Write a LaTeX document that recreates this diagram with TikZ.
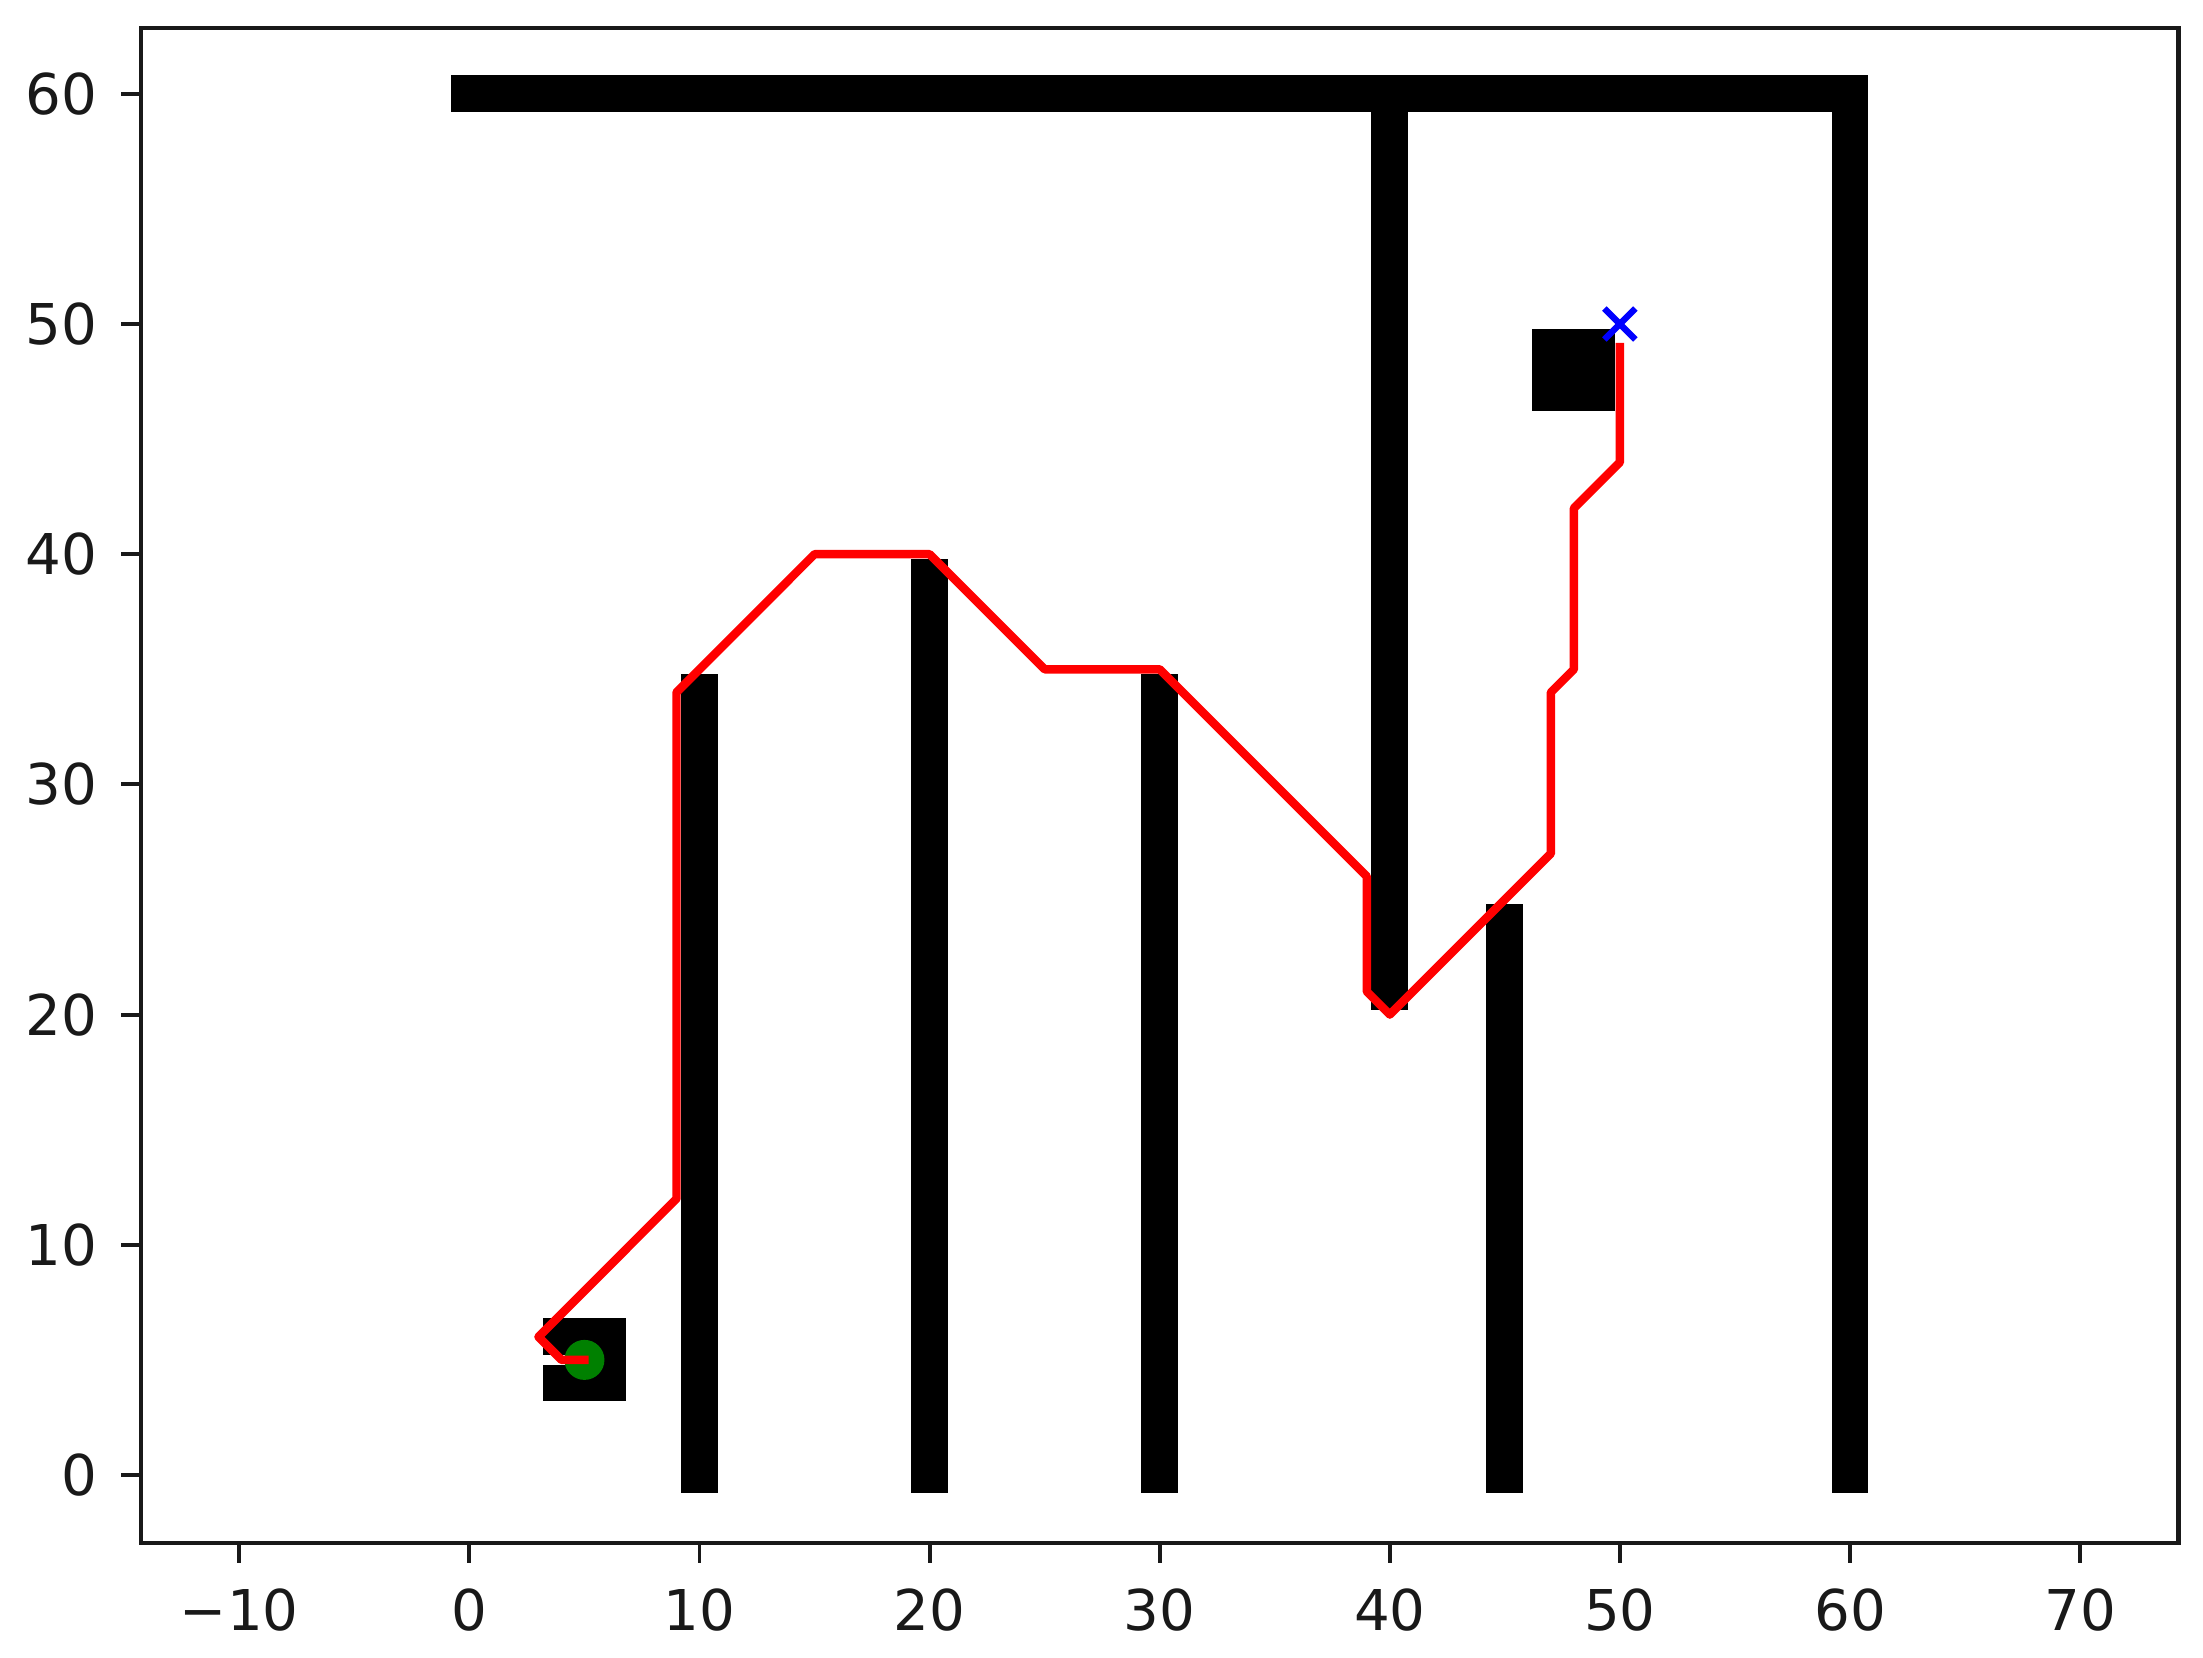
\documentclass[tikz,border=0pt]{standalone}
\usepackage{fontspec}
\setmainfont{DejaVu Sans}
\definecolor{mplgreen}{rgb}{0,0.5,0}
\begin{document}
\begin{tikzpicture}[
  obst/.style={fill=black},
  pathline/.style={draw=red, line width=2.4pt, line join=round, line cap=rect},
  axframe/.style={draw=black!90, line width=1.2pt},
  tickmark/.style={draw=black!90, line width=1.1pt},
  ticklab/.style={inner sep=0pt, font=\fontsize{16}{19}\selectfont, text=black!90},
  startmark/.style={fill=mplgreen},
  goalmark/.style={draw=blue, line width=1.8pt, line cap=butt}
]
\useasboundingbox (0,0) rectangle (22.03,16.57);
\begin{scope}[shift={(4.694,1.82)}, x=0.2301cm, y=0.2302cm]
  % obstacles
  \fill[obst] (-0.8,59.2) rectangle (60.8,60.8);
  \fill[obst] (59.2,-0.8) rectangle (60.8,60.8);
  \fill[obst] (9.2,-0.8) rectangle (10.8,34.8);
  \fill[obst] (19.2,-0.8) rectangle (20.8,39.8);
  \fill[obst] (29.2,-0.8) rectangle (30.8,34.8);
  \fill[obst] (39.2,20.2) rectangle (40.8,60.8);
  \fill[obst] (44.2,-0.8) rectangle (45.8,24.8);
  \fill[obst] (46.2,46.2) rectangle (49.8,49.8);
  \foreach \px/\py in {4/4,5/4,6/4,4/6,5/6,6/6,5/5,6/5}
    \fill[obst] (\px-0.8,\py-0.8) rectangle (\px+0.8,\py+0.8);
  % start and goal
  \coordinate (start) at (5,5);
  \coordinate (goal) at (50,50);
  \fill[startmark] (start) circle[radius=0.2cm];
  \draw[goalmark] ([shift={(-0.155cm,-0.155cm)}]goal) -- ([shift={(0.155cm,0.155cm)}]goal);
  \draw[goalmark] ([shift={(-0.155cm,0.155cm)}]goal) -- ([shift={(0.155cm,-0.155cm)}]goal);
  % path
  \draw[pathline] (start) -- (4,5) -- (3,6) -- (9,12) -- (9,34) -- (15,40) -- (20,40)
    -- (25,35) -- (30,35) -- (39,26) -- (39,21) -- (40,20) -- (47,27) -- (47,34)
    -- (48,35) -- (48,42) -- (50,44) -- (50,49);
  % axes frame
  \draw[axframe] (-14.27,-2.95) rectangle (74.27,62.85);
  % x ticks
  \foreach \v/\t in {-10/−10,0/0,10/10,20/20,30/30,40/40,50/50,60/60,70/70} {
    \draw[tickmark] (\v,-2.95) -- ++(0,-0.2cm);
    \node[ticklab, anchor=north] (xl\v) at ([yshift=-0.45cm]\v,-2.95) {\t};
  }
  % y ticks
  \foreach \v in {0,10,20,30,40,50,60} {
    \draw[tickmark] (-14.27,\v) -- ++(-0.2cm,0);
    \node[ticklab, anchor=east] (yl\v) at ([xshift=-0.43cm]-14.27,\v) {\v};
  }
\end{scope}
\end{tikzpicture}
\end{document}
